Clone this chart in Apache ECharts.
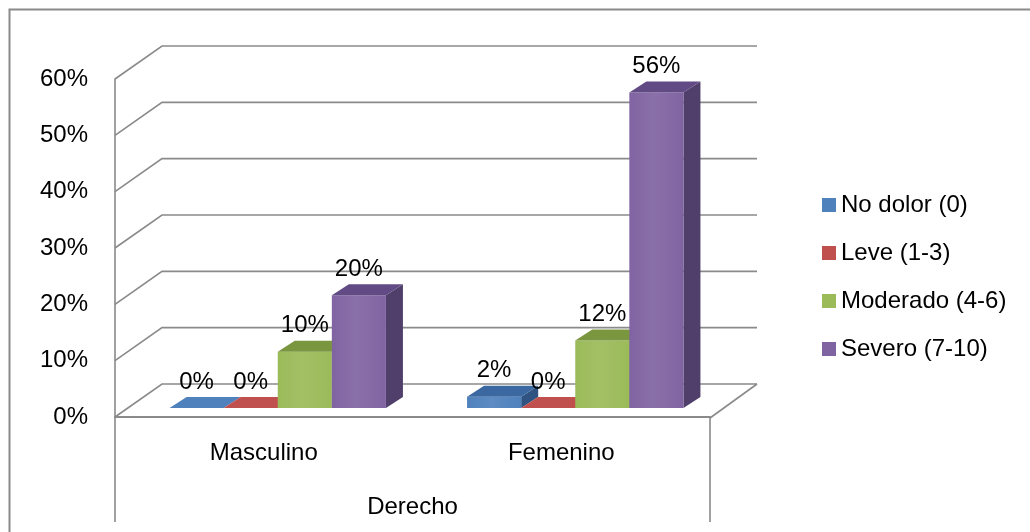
<!DOCTYPE html>
<html>
<head>
    <meta charset="utf-8">
    <script src="https://cdn.jsdelivr.net/npm/echarts@6/dist/echarts.min.js"></script>
</head>
<body style="margin:0">
    <div id="main" style="width:1030px;height:532px"></div>

    <script type="text/javascript">
        // datos
        var categorias = ['Masculino', 'Femenino'];
        var grupo = ['Derecho'];
        var niveles = ['No dolor (0)', 'Leve (1-3)', 'Moderado (4-6)', 'Severo (7-10)'];
        var noDolor = [0, 0.02];
        var leve = [0, 0];
        var moderado = [0.10, 0.12];
        var severo = [0.20, 0.56];
        var ticks = [0, 0.1, 0.2, 0.3, 0.4, 0.5, 0.6];

        var valores = [noDolor, leve, moderado, severo];
        var frente = ['#4F81BD', '#C0504D', '#9BBB59', '#8064A2'];
        var techo = ['#3b68a0', '#9e3b39', '#7a963f', '#624b85'];
        var lado = ['#2f5481', '#7d2e2c', '#5f7a2e', '#4f3f6a'];

        var FONT = '"Liberation Sans", Arial, sans-serif';
        var GRIS = '#8a8a8a';
        // desplazamiento de profundidad (pared del fondo)
        var PDX = 47, PDY = -33;
        // posicion de las barras dentro de la profundidad
        var BDX = 14, BDY = -9, SDX = 17, SDY = -11;

        var myChart = echarts.init(document.getElementById('main'));

        function renderBarra(k) {
            return function (params, api) {
                var x = api.value(0);
                var v = api.value(1);
                var base = api.coord([x, 0]);
                var top = api.coord([x, v]);
                var band = api.size([1, 0])[0];
                var bw = band / 5.5;
                var x0 = base[0] - 2 * bw + k * bw + BDX;
                var x1 = x0 + bw;
                var yb = base[1] + BDY;
                var yt = top[1] + BDY;
                var children = [];
                if (v > 0) {
                    children.push({
                        type: 'polygon',
                        shape: {points: [[x1, yb], [x1 + SDX, yb + SDY], [x1 + SDX, yt + SDY], [x1, yt]]},
                        style: {fill: lado[k]}
                    });
                    children.push({
                        type: 'rect',
                        shape: {x: x0, y: yt, width: bw, height: yb - yt},
                        style: {
                            fill: new echarts.graphic.LinearGradient(0, 0, 1, 0, [
                                {offset: 0, color: frente[k]},
                                {offset: 0.45, color: echarts.color.lift(frente[k], 0.08)},
                                {offset: 1, color: frente[k]}
                            ])
                        }
                    });
                }
                children.push({
                    type: 'polygon',
                    shape: {points: [[x0, yt], [x1, yt], [x1 + SDX, yt + SDY], [x0 + SDX, yt + SDY]]},
                    style: {fill: v > 0 ? techo[k] : frente[k]}
                });
                children.push({
                    type: 'text',
                    z2: 100,
                    style: {
                        x: (x0 + x1) / 2,
                        y: yt - 26,
                        text: Math.round(v * 100) + '%',
                        align: 'center',
                        verticalAlign: 'middle',
                        fill: '#000',
                        font: '24px ' + FONT
                    }
                });
                return {type: 'group', children: children};
            };
        }

        function renderParedes(params, api) {
            var cs = params.coordSys;
            var L = cs.x, R = cs.x + cs.width;
            var v = api.value(0);
            var y = api.coord([0, v])[1];
            var pts = [[L, y], [L + PDX, y + PDY], [R + PDX, y + PDY]];
            var children = [{
                type: 'polyline',
                shape: {points: pts},
                style: {stroke: GRIS, lineWidth: 1.6, fill: null}
            }];
            if (v === 0) {
                children.push({
                    type: 'polyline',
                    shape: {points: [[R, y + 1], [R + PDX, y + PDY]]},
                    style: {stroke: GRIS, lineWidth: 1.6, fill: null}
                });
            }
            return {type: 'group', children: children};
        }

        var series = [{
            name: 'paredes',
            type: 'custom',
            silent: true,
            z: 1,
            renderItem: renderParedes,
            data: ticks.map(function (t) { return [t]; })
        }];
        for (var k = 0; k < niveles.length; k++) {
            series.push({
                name: niveles[k],
                type: 'custom',
                z: 2,
                renderItem: renderBarra(k),
                itemStyle: {color: frente[k]},
                encode: {x: 0, y: 1},
                data: valores[k].map(function (val, i) { return [i, val]; })
            });
        }

        var option = {
            animation: false,
            backgroundColor: '#fff',
            graphic: [{
                type: 'rect',
                shape: {x: 9.5, y: 9.5, width: 1200, height: 700},
                style: {fill: null, stroke: GRIS, lineWidth: 2}
            }],
            legend: {
                data: niveles,
                orient: 'vertical',
                left: 817,
                top: 188,
                icon: 'rect',
                itemWidth: 14,
                itemHeight: 14,
                itemGap: 24,
                textStyle: {fontFamily: FONT, fontSize: 24, color: '#000', padding: 0}
            },
            grid: {left: 115, right: 320, top: 79, bottom: 115},
            xAxis: [{
                type: 'category',
                data: categorias,
                axisLine: {show: true, lineStyle: {color: GRIS, width: 2}},
                axisTick: {show: false},
                axisLabel: {margin: 24, fontFamily: FONT, fontSize: 24, color: '#000'}
            }, {
                type: 'category',
                data: grupo,
                position: 'bottom',
                axisLine: {show: false},
                axisTick: {show: true, length: 105, lineStyle: {color: GRIS, width: 1.6}},
                axisLabel: {margin: 78, fontFamily: FONT, fontSize: 24, color: '#000'}
            }],
            yAxis: {
                type: 'value',
                min: 0,
                max: 0.6,
                interval: 0.1,
                axisLine: {show: true, lineStyle: {color: GRIS, width: 1.6}},
                axisTick: {show: false},
                splitLine: {show: false},
                axisLabel: {
                    margin: 27,
                    padding: [10, 0, 0, 0],
                    fontFamily: FONT,
                    fontSize: 24,
                    color: '#000',
                    formatter: function (v) { return Math.round(v * 100) + '%'; }
                }
            },
            series: series
        };

        myChart.setOption(option);
    </script>
</body>
</html>
